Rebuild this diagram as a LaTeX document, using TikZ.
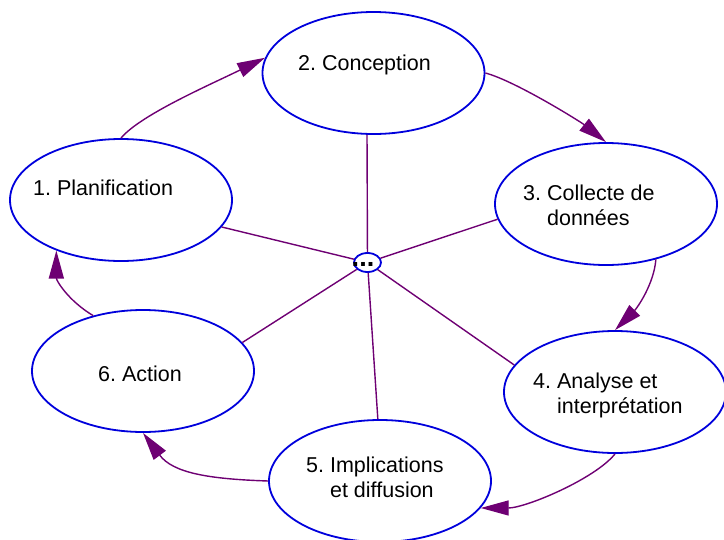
\documentclass[tikz,border=0pt]{standalone}
\usepackage{fontspec}
\setmainfont{Liberation Sans}
\usetikzlibrary{arrows.meta,shapes.geometric}
\frenchspacing

\definecolor{stageblue}{RGB}{0,0,220}
\definecolor{linkpurple}{RGB}{110,0,115}

\tikzset{
	stage/.style={ellipse, draw=stageblue, line width=1.8pt, minimum width=222pt, minimum height=122pt, inner sep=0pt},
	stagetext/.style={anchor=base west, align=left, inner sep=0pt, font=\fontsize{21.5}{25}\selectfont},
	cyclelink/.style={draw=linkpurple, line width=1.4pt, -{Triangle[length=28pt,width=15pt]}},
	spoke/.style={draw=linkpurple, line width=1.4pt}
}

\begin{document}
\begin{tikzpicture}[x=1pt, y=-1pt]
	\useasboundingbox (0,0) rectangle (724,539);
	
	% Draw stages
	\node[stage] (plan) at (121,200) {};
	\node[stage] (conc) at (373.5,73) {};
	\node[stage] (coll) at (606,204) {};
	\node[stage] (anal) at (615,392) {};
	\node[stage] (impl) at (380,481) {};
	\node[stage] (act) at (143,371) {};
	
	% Draw hub
	\node[ellipse, draw=stageblue, line width=1.8pt, minimum width=27pt, minimum height=19pt, inner sep=0pt] (hub) at (367.5,262.5) {};
	\node[inner sep=0pt, font=\bfseries\fontsize{27}{27}\selectfont] (dots) at (363,264) {...};
	
	% Draw text (base is the last line)
	\node[stagetext] (plantext) at (33,195) {1. Planification};
	\node[stagetext] (conctext) at (298,70) {2. Conception};
	\node[stagetext] (colltext) at (523,225) {3. Collecte de\\\phantom{3. }données};
	\node[stagetext] (analtext) at (533,413) {4. Analyse et\\\phantom{4. }interprétation};
	\node[stagetext] (impltext) at (306,497) {5. Implications\\\phantom{5. }et diffusion};
	\node[stagetext] (acttext) at (98,381) {6. Action};
	
	% Draw spokes
	\draw[spoke] (hub) -- (plan.-15);
	\draw[spoke] (hub) -- (conc.-96);
	\draw[spoke] (hub) -- (coll.188);
	\draw[spoke] (hub) -- (anal.165);
	\draw[spoke] (hub) -- (impl.92);
	\draw[spoke] (hub) -- (act.16);
	
	% Draw cycle
	\draw[cyclelink] (plan.north) .. controls +(19,-23) and +(-55,27) .. (conc.172);
	\draw[cyclelink] (conc.east) .. controls +(30,8) and +(-25,-20) .. (coll.north);
	\draw[cyclelink] (coll.-48) .. controls +(-2,25) and +(22,-22) .. (anal.north);
	\draw[cyclelink] (anal.south) .. controls +(-20,25) and +(45,0) .. (impl.-15);
	\draw[cyclelink] (impl.west) .. controls +(-60,-2) and +(30,40) .. (act.south);
	\draw[cyclelink] (act.132) .. controls +(-25,-15) and +(0,30) .. (plan.-142);
\end{tikzpicture}
\end{document}
